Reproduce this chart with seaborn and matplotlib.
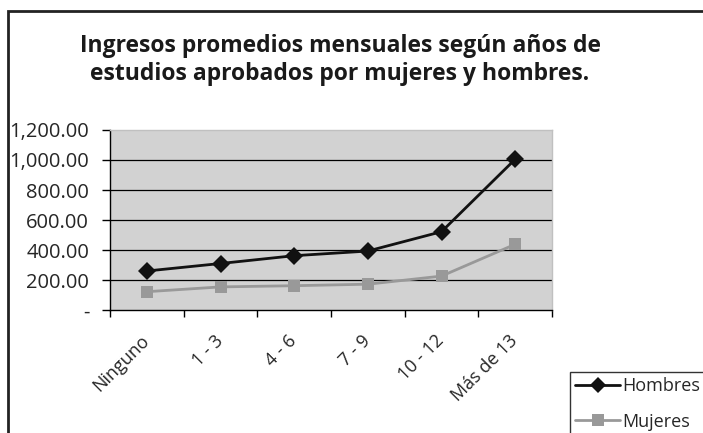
import numpy as np
import pandas as pd
import seaborn as sns
import matplotlib.pyplot as plt
from matplotlib.patches import Rectangle
from matplotlib.ticker import FuncFormatter, FixedLocator
from matplotlib.transforms import ScaledTranslation

# data
categorias = ['Ninguno', '1 - 3', '4 - 6', '7 - 9', '10 - 12', 'Más de 13']
hombres = [260, 310, 362, 393, 522, 1005]
mujeres = [122, 154, 162, 172, 226, 438]

df = pd.DataFrame({
    'pos': list(range(len(categorias))) * 2,
    'ingreso': hombres + mujeres,
    'sexo': ['Hombres'] * len(categorias) + ['Mujeres'] * len(categorias),
})

sns.set_style('white')
plt.rcParams['font.family'] = ['Open Sans', 'DejaVu Sans']

fig = plt.figure(figsize=(7.03, 4.33), dpi=100)
ax = fig.add_axes([110 / 703, 1 - 310 / 433, 442 / 703, 180 / 433])
ax.set_facecolor('#d2d2d2')

sns.lineplot(data=df, x='pos', y='ingreso', hue='sexo', style='sexo',
             palette={'Hombres': '#111111', 'Mujeres': '#999999'},
             markers={'Hombres': 'D', 'Mujeres': 's'}, dashes=False,
             markersize=9, linewidth=2, markeredgewidth=0, ax=ax, legend=False)

ax.set_xlim(-0.5, len(categorias) - 0.5)
ax.set_ylim(0, 1200)
ax.set_yticks(np.arange(0, 1201, 200))
ax.yaxis.set_major_formatter(FuncFormatter(lambda v, p: '-' if v == 0 else f'{v:,.2f}'))
for yv in range(200, 1001, 200):
    ax.axhline(yv, color='black', linewidth=0.9, zorder=1)

ax.xaxis.set_major_locator(FixedLocator(np.arange(-0.5, len(categorias), 1)))
ax.xaxis.set_minor_locator(FixedLocator(np.arange(len(categorias))))
ax.set_xticklabels([''] * 7)
ax.set_xticklabels(categorias, minor=True, rotation=45, ha='right', va='center',
                   rotation_mode='anchor', fontsize=13)
shift = ScaledTranslation(-6 / 100, 0, fig.dpi_scale_trans)
for lab in ax.get_xticklabels(minor=True):
    lab.set_transform(lab.get_transform() + shift)
ax.tick_params(axis='x', which='minor', length=0, pad=20)
ax.tick_params(axis='x', which='major', length=5, width=1, color='black', direction='out', bottom=True)
ax.tick_params(axis='y', length=6, width=1, color='black', direction='out', left=True,
               labelsize=14.5, pad=9)
ax.set_xlabel('')
ax.set_ylabel('')

for s in ['top', 'right']:
    ax.spines[s].set_color('#c0c0c0')
    ax.spines[s].set_linewidth(1)
for s in ['left', 'bottom']:
    ax.spines[s].set_color('black')
    ax.spines[s].set_linewidth(1)

fig.text(340 / 703, 1 - 60 / 433,
         'Ingresos promedios mensuales según años de\nestudios aprobados por mujeres y hombres.',
         ha='center', va='center', fontsize=16.5, fontweight='bold', linespacing=1.2,
         color='#1a1a1a')

# outer frame (cropped by figure edge)
fig.patches.append(Rectangle((8 / 703, -0.1), 1.2, 1 - 11 / 433 + 0.1, transform=fig.transFigure,
                             fill=False, edgecolor='#222222', linewidth=2))

# legend box (partly cut by the edge)
h1, = ax.plot([], [], color='#111111', marker='D', markersize=8, linewidth=2, markeredgewidth=0)
h2, = ax.plot([], [], color='#999999', marker='s', markersize=9, linewidth=2, markeredgewidth=0)
leg = fig.legend([h1, h2], ['Hombres', 'Mujeres'], loc='upper left',
                 bbox_to_anchor=(570 / 703, 1 - 372 / 433), fontsize=13,
                 frameon=True, fancybox=False, edgecolor='black', borderpad=0.3,
                 handlelength=2.45, handletextpad=0.12, labelspacing=0.95, borderaxespad=0)
leg.get_frame().set_linewidth(1)

fig.savefig('out.png', dpi=100)
